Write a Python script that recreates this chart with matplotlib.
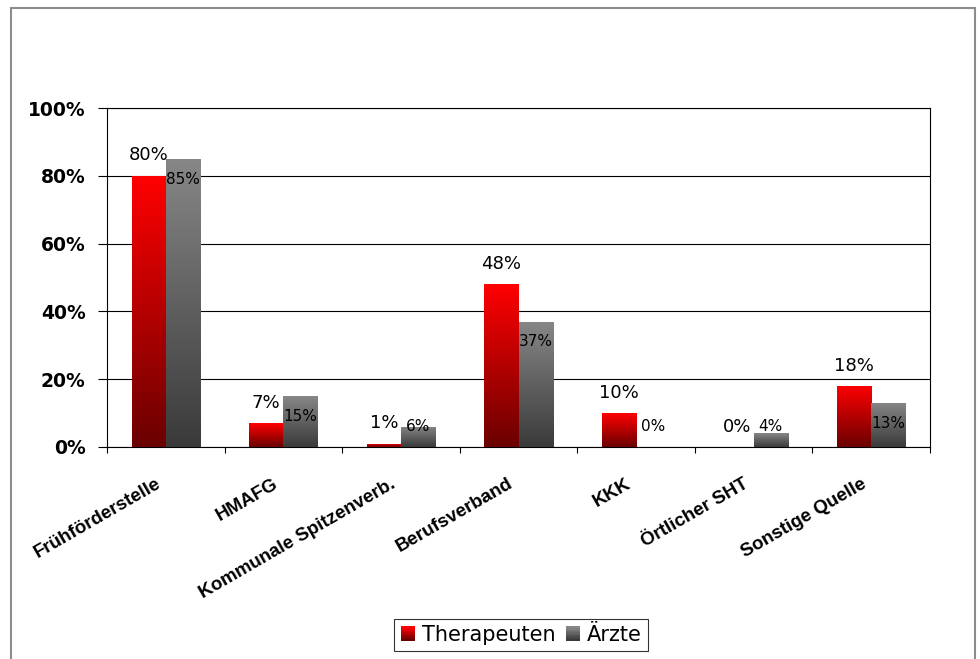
import numpy as np
import matplotlib
matplotlib.use("Agg")
import matplotlib.pyplot as plt
from matplotlib.patches import Rectangle
from matplotlib.colors import LinearSegmentedColormap
from matplotlib.legend_handler import HandlerBase

categories = ["Frühförderstelle", "HMAFG", "Kommunale Spitzenverb.", "Berufsverband",
              "KKK", "Örtlicher SHT", "Sonstige Quelle"]
therapeuten = [80, 7, 1, 48, 10, 0, 18]
aerzte = [85, 15, 6, 37, 0, 4, 13]
series_names = ["Therapeuten", "Ärzte"]
y_ticks = [0, 20, 40, 60, 80, 100]

red_top, red_bottom = "#ff0000", "#6a0000"
grey_top, grey_bottom = "#878787", "#3a3a3a"

plt.rcParams["font.family"] = ["DejaVu Sans"]

fig = plt.figure(figsize=(9.8, 6.59), dpi=100)
fig.patch.set_facecolor("white")

# outer chart frame
fig.patches.append(Rectangle((11 / 980, -0.05), (975 - 11) / 980, (659 - 8) / 659 + 0.05,
                             transform=fig.transFigure, fill=False,
                             edgecolor="#8c8c8c", linewidth=1.5))

ax = fig.add_axes([107 / 980, 212 / 659, 823 / 980, 339 / 659])

x = np.arange(len(categories))
w = 0.29


def gradient_bars(xpos, values, top, bottom):
    bars = ax.bar(xpos, values, w, color="none", edgecolor="none", zorder=3)
    cmap = LinearSegmentedColormap.from_list("g", [bottom, top])
    grad = np.linspace(0, 1, 256).reshape(-1, 1)
    for b in bars:
        h = b.get_height()
        if h <= 0:
            continue
        x0 = b.get_x()
        im = ax.imshow(grad, cmap=cmap, origin="lower", aspect="auto",
                       extent=(x0, x0 + b.get_width(), 0, h), zorder=3,
                       interpolation="bilinear")
        im.set_clip_path(b)
    return bars


gradient_bars(x - w / 2, therapeuten, red_top, red_bottom)
gradient_bars(x + w / 2, aerzte, grey_top, grey_bottom)

ax.set_xlim(-0.5, len(categories) - 0.5)
ax.set_ylim(0, 100)

# value labels
for i, v in enumerate(therapeuten):
    ax.text(i - w / 2, v + 6, f"{v}%", ha="center", va="center", fontsize=13, zorder=5)
for i, v in enumerate(aerzte):
    ax.text(i + w / 2, max(v - 6, 6), f"{v}%", ha="center", va="center", fontsize=11, zorder=5)

# axes styling
ax.set_yticks(y_ticks)
ax.set_yticklabels([f"{t}%" for t in y_ticks], fontsize=13.5, fontweight="bold")
ax.yaxis.grid(True, color="black", linewidth=0.8)
ax.set_axisbelow(True)
ax.tick_params(axis="y", direction="out", length=6.5, width=0.8, pad=9)

ax.set_xticks(np.arange(len(categories) + 1) - 0.5)
ax.set_xticklabels([])
ax.tick_params(axis="x", direction="out", length=4, width=0.8)
for i, c in enumerate(categories):
    ax.annotate(c, xy=(i, 0), xycoords=("data", "data"), xytext=(-3, -28.5),
                textcoords="offset points", rotation=30, rotation_mode="anchor",
                ha="right", va="baseline", fontsize=13.5, fontweight="bold",
                family=["Liberation Sans", "DejaVu Sans"])

for s in ax.spines.values():
    s.set_color("black")
    s.set_linewidth(0.8)


class GradientSquare(HandlerBase):
    def __init__(self, top, bottom):
        super().__init__()
        self.top = top
        self.bottom = bottom

    def create_artists(self, legend, orig_handle, xdescent, ydescent, width, height,
                       fontsize, trans):
        cmap = LinearSegmentedColormap.from_list("g", [self.bottom, self.top])
        n = 10
        size = height * 0.95
        x0 = width - size
        y0 = (height - size) / 2 - ydescent
        arts = []
        for k in range(n):
            arts.append(Rectangle((x0 - xdescent, y0 + k * size / n), size, size / n + 0.3,
                                  facecolor=cmap(k / (n - 1)), edgecolor="none",
                                  transform=trans))
        return arts


h1 = Rectangle((0, 0), 1, 1)
h2 = Rectangle((0, 0), 1, 1)
leg = fig.legend([h1, h2], series_names, loc="center", bbox_to_anchor=(521 / 980, 1 - 635 / 659),
                 ncol=2, frameon=True, fancybox=False, fontsize=15,
                 handler_map={h1: GradientSquare(red_top, red_bottom),
                              h2: GradientSquare(grey_top, grey_bottom)},
                 handlelength=0.7, handletextpad=0.3, columnspacing=0.5,
                 borderpad=0.3, borderaxespad=0, edgecolor="black")
leg.get_frame().set_linewidth(0.8)

fig.savefig("out.png", dpi=100, facecolor="white")
